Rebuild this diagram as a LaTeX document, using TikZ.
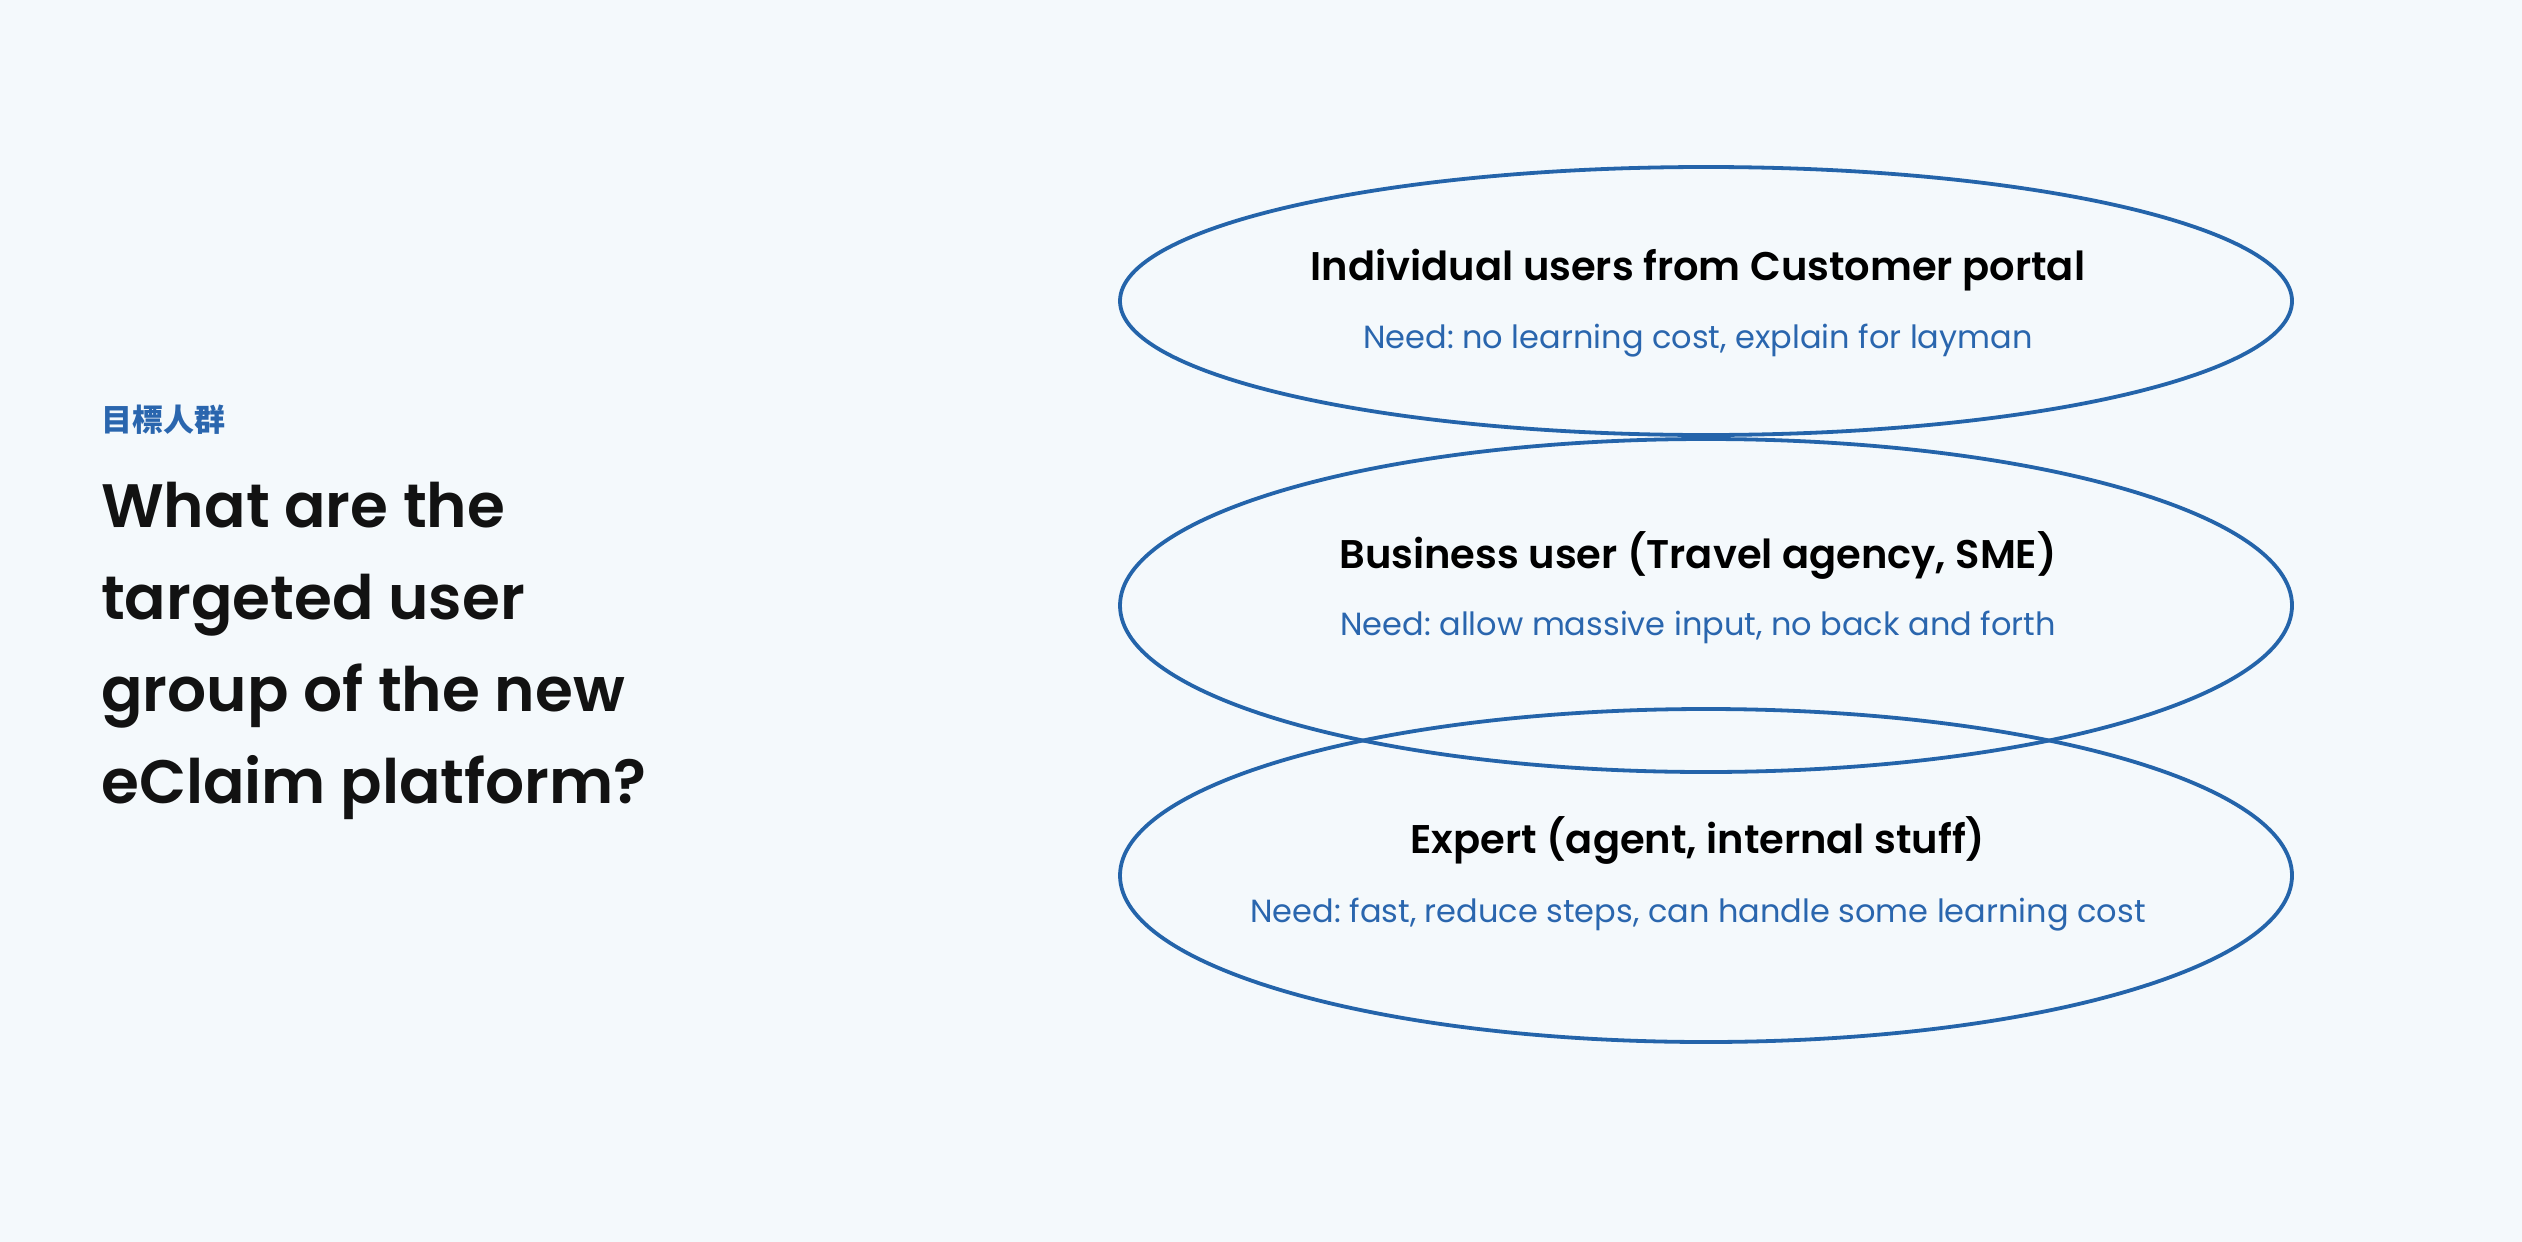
\documentclass[tikz,border=0pt]{standalone}
\usepackage{fontspec}
\usetikzlibrary{shapes.geometric}
\newfontfamily\pop{Poppins}[BoldFont={Poppins SemiBold}]
\newfontfamily\cjk{Noto Sans CJK TC}
\frenchspacing
\definecolor{bgc}{HTML}{F4F9FC}
\definecolor{ringc}{HTML}{2464AA}
\definecolor{subc}{HTML}{2A66AE}
\definecolor{headc}{HTML}{121212}
\tikzset{
  ring/.style={ellipse, draw=ringc, line width=3.8pt, minimum width=1172pt, inner sep=0pt},
  ttl/.style={anchor=base, font=\pop\bfseries\fontsize{40}{48}\selectfont, text=black, inner sep=0pt},
  sub/.style={anchor=base, font=\pop\fontsize{32}{38}\selectfont, text=subc, inner sep=0pt},
}
\begin{document}
\begin{tikzpicture}[x=1pt,y=-1pt]
\fill[bgc] (0,0) rectangle (2522,1242);
\useasboundingbox (0,0) rectangle (2522,1242);
\node[ring, minimum height=268pt] (e1) at (1706,301) {};
\node[ring, minimum height=333pt] (e2) at (1706,605.5) {};
\node[ring, minimum height=333pt] (e3) at (1706,875.5) {};
\node[ttl] (t1) at (1698,280) {Individual users from Customer portal};
\node[sub] (s1) at (1698,348) {Need: no learning cost, explain for layman};
\node[ttl] (t2) at (1698,568) {Business user (Travel agency, SME)};
\node[sub] (s2) at (1698,635) {Need: allow massive input, no back and forth};
\node[ttl] (t3) at (1698,853) {Expert (agent, internal stuff)};
\node[sub] (s3) at (1698,922) {Need: fast, reduce steps, can handle some learning cost};
\node[anchor=base west, inner sep=0pt, text=subc, font=\cjk\fontsize{31}{36}\selectfont\bfseries] (kick) at (101,431) {目標人群};
\node[anchor=base west, inner sep=0pt, text=headc, align=left, font=\pop\bfseries\fontsize{61.3}{92}\selectfont] (hd) at (101,803) {What are the\\targeted user\\group of the new\\eClaim platform?};
\end{tikzpicture}
\end{document}
